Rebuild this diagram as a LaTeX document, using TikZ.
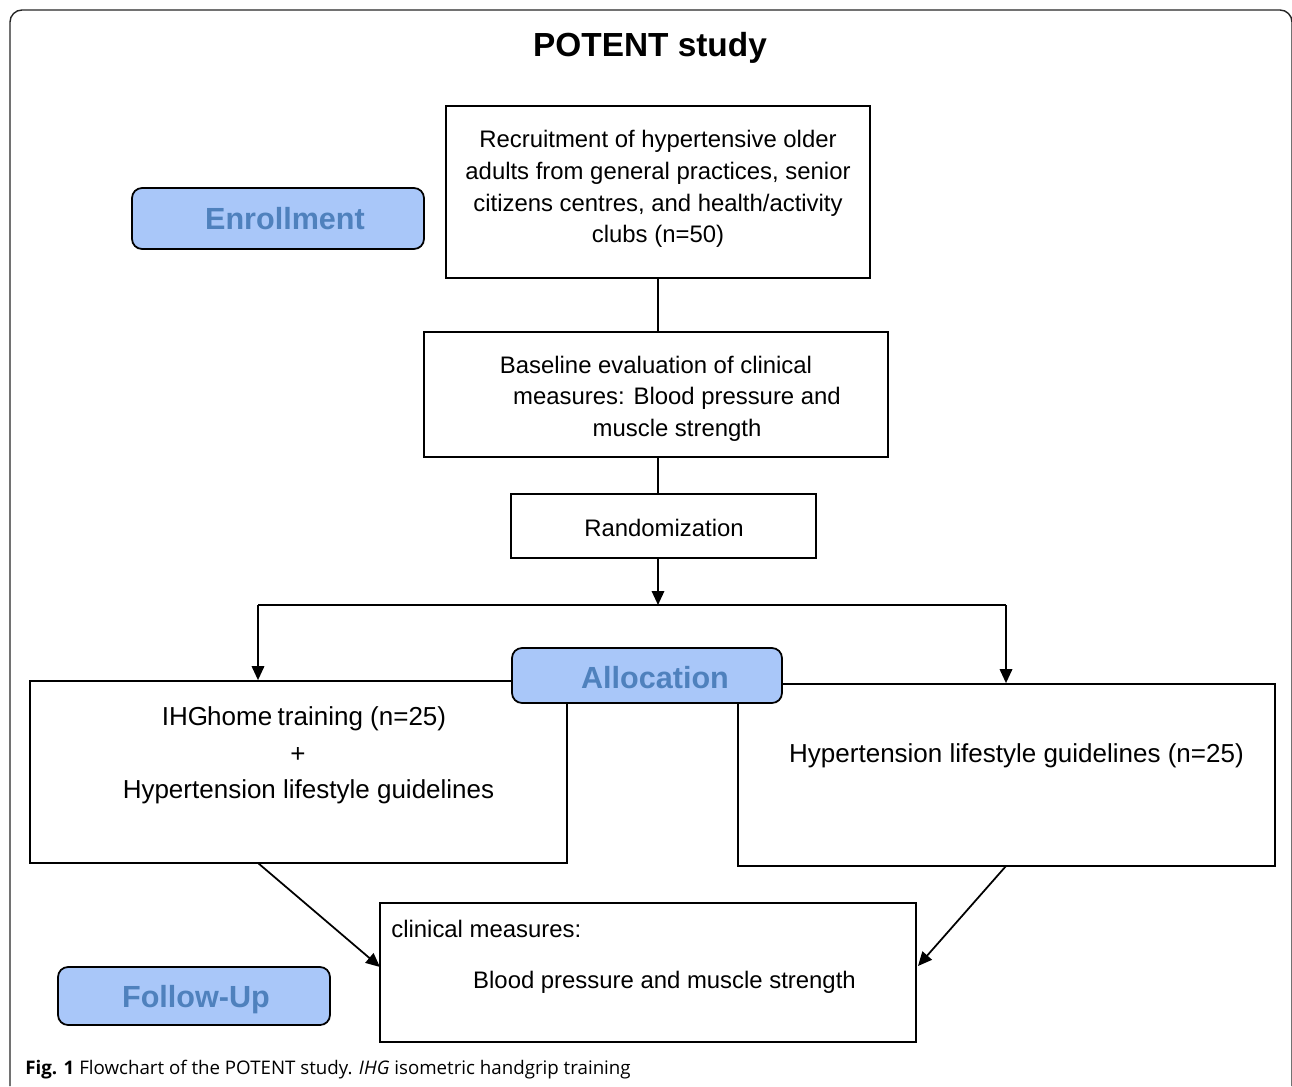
\documentclass[tikz,border=0pt]{standalone}
\usepackage{fontspec}
\setmainfont{Liberation Sans}
\newfontfamily\capfont{Open Sans}
\usetikzlibrary{arrows.meta}
\definecolor{phasefill}{HTML}{A9C7F9}
\definecolor{phasetext}{HTML}{4F81BD}
\tikzset{
  box/.style={draw=black, line width=1pt, fill=white, inner sep=0pt},
  phase/.style={draw=black, line width=1pt, fill=phasefill, rounded corners=0.2cm, inner sep=0pt},
  phasetxt/.style={text=phasetext, inner sep=0pt, font=\fontsize{17.4}{20}\selectfont\bfseries},
  txt/.style={font=\fontsize{13.6}{18}\selectfont, align=center, inner sep=0pt},
  bigtxt/.style={font=\fontsize{14.8}{21}\selectfont, align=center, inner sep=0pt},
  conn/.style={line width=1pt},
  arr/.style={line width=1pt, -{Triangle[length=0.28cm, width=0.25cm]}},
}
\begin{document}
\begin{tikzpicture}[x=0.02cm, y=-0.02cm]
\useasboundingbox (0,0) rectangle (1292,1086);
% outer frame
\draw[line width=0.8pt, black!85] (10,1086) -- (10,22) arc[start angle=180, end angle=90, radius=0.24cm] -- (1280,10) arc[start angle=90, end angle=0, radius=0.24cm] -- (1292,1086);
% title
\node[font=\fontsize{19}{22}\selectfont\bfseries, inner sep=0pt] (title) at (650,48) {POTENT study};
% boxes
\node[box, minimum width=8.48cm, minimum height=3.44cm] (recruit) at (658,192) {};
\node[txt] (recruitT) at (658,189) {Recruitment of hypertensive older\\adults from general practices, senior\\citizens centres, and health/activity\\clubs (n=50)};
\node[phase, minimum width=5.84cm, minimum height=1.22cm] (enroll) at (278,218.5) {};
\node[phasetxt] (enrollT) at (285,219) {Enrollment};
\node[box, minimum width=9.28cm, minimum height=2.5cm] (base) at (656,394.5) {};
\node[txt] (baseT1) at (656,365) {Baseline evaluation of clinical};
\node[txt] (baseT2) at (677,398) {measures: Blood pressure and};
\node[txt] (baseT3) at (677,430) {muscle strength};
\node[box, minimum width=6.1cm, minimum height=1.28cm] (rand) at (663.5,526) {};
\node[txt] (randT) at (664,528) {Randomization};
\coordinate (split) at (658,605);
\coordinate (splitL) at (258,605);
\coordinate (splitR) at (1006,605);
\node[box, minimum width=10.74cm, minimum height=3.64cm] (left) at (298.5,772) {};
\node[bigtxt] (leftT1) at (304,719) {IHG\kern-0.5pt home\kern-1pt\ training (n=25)};
\node[bigtxt] (leftT2) at (298,755) {+};
\node[bigtxt] (leftT3) at (308.5,792) {Hypertension lifestyle guidelines};
\node[box, minimum width=10.74cm, minimum height=3.64cm] (right) at (1006.5,775) {};
\node[bigtxt] (rightT) at (1016.5,756) {Hypertension lifestyle guidelines (n=25)};
\node[phase, minimum width=5.4cm, minimum height=1.1cm] (alloc) at (647,675.5) {};
\node[phasetxt] (allocT) at (655,678) {Allocation};
\node[box, minimum width=10.72cm, minimum height=2.78cm] (follow) at (648,972.5) {};
\node[txt, anchor=west] (followT1) at (391,929) {clinical measures:};
\node[txt] (followT2) at (664.5,982) {Blood pressure and muscle strength};
\node[phase, minimum width=5.44cm, minimum height=1.16cm] (fu) at (194,996) {};
\node[phasetxt] (fuT) at (196,1000) {Follow-Up};
% connectors
\draw[conn] (recruit.south) -- (base.north -| recruit.south);
\draw[conn] (base.south -| recruit.south) -- (rand.north -| recruit.south);
\draw[arr] (rand.south -| split) -- (split);
\draw[conn] (splitL) -- (splitR);
\draw[arr] (splitL) -- (left.north -| splitL);
\draw[arr] (splitR) -- (right.north -| splitR);
\coordinate (lb) at (258,863);
\coordinate (rb) at (1006,866);
\draw[arr] (lb) -- (380,967);
\draw[arr] (rb) -- (918,966);
% caption
\node[anchor=west, inner sep=0pt, font=\capfont\fontsize{10.65}{12}\selectfont] (cap) at (25,1070) {\textbf{Fig. 1} Flowchart of the POTENT study. \textit{IHG} isometric handgrip training};
\end{tikzpicture}
\end{document}
